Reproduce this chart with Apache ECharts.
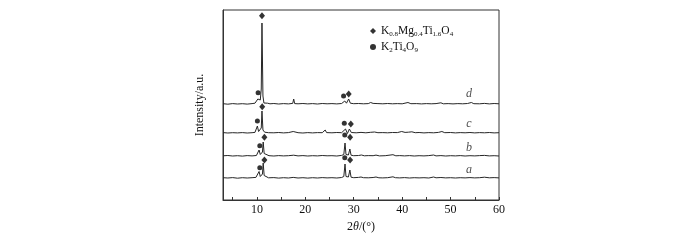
<!DOCTYPE html>
<html>
<head>
<meta charset="utf-8">
<script src="https://cdn.jsdelivr.net/npm/echarts@6/dist/echarts.min.js"></script>
<style>
  html, body { margin: 0; padding: 0; background: #fff; }
  #xrdChart { width: 700px; height: 240px; }
</style>
</head>
<body>
<div id="xrdChart"></div>
<script>
// 2theta / intensity pairs (intensity in plot px above each baseline)
const traceA = [[3,0.3],[4,0],[5,0.4],[6,-0.2],[7,0.3],[8,0],[9,0.3],[9.8,0.6],[10.2,2],[10.45,6.5],[10.7,1.5],[10.95,1.5],[11.15,4],[11.3,15],[11.5,2.5],[11.8,0.8],[12.4,0.2],[13.5,0.4],[14.5,-0.1],[15.5,0.3],[16.5,0],[17.5,0.6],[18.5,0],[19.5,0.3],[20.5,-0.1],[21.5,0.3],[22.5,0],[23.5,0.4],[24.5,0.1],[25.5,0.3],[26.5,0],[27.5,0.5],[27.95,1.5],[28.2,14],[28.4,1.5],[28.9,1],[29.2,8],[29.45,0.8],[30,0.3],[31,0.6],[31.5,1],[32,0.3],[33,0.2],[34,0.5],[34.6,1],[35.2,0.2],[36,0.1],[37,0.3],[38.1,1.2],[38.6,0.3],[39.5,0.1],[40.5,0.4],[41.5,0],[42.5,0.3],[43.5,0.1],[44.5,0.3],[45.5,0],[46.5,1],[47,0.2],[48,0.5],[49,0.1],[50,0.3],[51,0],[52,0.3],[53,0.1],[54,0.4],[55,0.1],[56,0.3],[57,0.8],[58,0.2],[59,0.4],[60,0.1]];
const traceB = [[3,0.2],[4,0.5],[5,0],[6,0.3],[7,-0.1],[8,0.4],[9,0.1],[9.9,0.5],[10.2,1.5],[10.45,6],[10.7,1.5],[10.95,1.2],[11.15,4],[11.3,14],[11.5,2.5],[11.8,0.6],[12.5,0.3],[13.5,0],[14.5,0.4],[15.5,0.1],[16.5,0.3],[17.6,0.8],[18.5,0.1],[19.5,0.4],[20.5,0],[21.5,0.3],[22.5,0.1],[23.5,0.5],[24.5,0.2],[25.5,0.3],[26.5,0],[27.5,0.6],[27.95,1.5],[28.2,13],[28.4,1.5],[28.9,1],[29.2,7],[29.45,0.8],[30,0.3],[31,0.5],[31.6,1],[32.2,0.2],[33,0.4],[34,0.3],[34.6,0.9],[35.3,0.1],[36.5,0.3],[38.1,1.3],[38.7,0.2],[39.5,0.4],[40.5,0.1],[41.5,0.4],[42.5,0],[43.5,0.3],[44.5,0.1],[45.5,0.4],[46.5,1],[47,0.1],[48,0.4],[49,0],[50,0.3],[51,0.1],[52,0.4],[53,0],[54,0.3],[55,0.1],[56,0.4],[57,0.6],[58,0.1],[59,0.3],[60,0]];
const traceC = [[3,0.4],[4,0],[5,0.3],[6,0.1],[7,0.4],[8,0],[9,0.3],[9.6,0.6],[9.9,2],[10.1,7],[10.35,1.5],[10.7,1],[10.9,5],[11.05,22],[11.25,3],[11.6,0.8],[12,1.2],[12.4,0.3],[13.5,0.2],[14.5,0.5],[15.5,0.1],[16.5,0.4],[17.5,1.5],[17.8,0.2],[18.5,0.3],[19.5,0],[20.5,0.4],[21.5,0.1],[22.5,0.4],[23.5,0.3],[24.1,3],[24.4,0.4],[25.5,0.2],[26.5,0.5],[27.5,0.3],[28.3,4],[28.7,-0.5],[29.1,4],[29.5,0.5],[30.5,0.2],[31.5,0.6],[32.5,0.2],[33.5,0.7],[34.3,1],[35,0.3],[36,0.4],[37,0.2],[38,0.5],[39,0.4],[39.9,1.5],[40.6,0.6],[41.3,0.8],[42,1.2],[42.7,0.3],[43.5,0.5],[44.5,0.1],[45.5,0.4],[46.5,0.2],[47.5,0.6],[48.2,1.5],[48.8,0.3],[50,0.5],[51,0.1],[52,0.4],[53,0.2],[54,0.5],[55,0.1],[56,0.4],[57,0.2],[58,0.5],[59,0.1],[60,0.3]];
const traceD = [[3,0.3],[4,-0.2],[5,0.4],[6,0],[7,0.3],[8,-0.1],[9,0.4],[9.6,0.8],[9.95,2.5],[10.2,5],[10.45,3],[10.7,4],[10.9,15],[11.05,81],[11.25,8],[11.45,1],[11.7,-1],[12.2,0.8],[12.7,0.2],[13.5,0.5],[14.5,0],[15.5,0.4],[16.5,0.1],[17.4,0.6],[17.6,5],[17.8,0.4],[18.5,0.2],[19.5,0.5],[20.5,0.1],[21.5,0.4],[22.5,0],[23.5,0.5],[24.5,0.2],[25.5,0.4],[26.5,0.1],[27.5,0.5],[28.15,3],[28.5,0.8],[28.95,5],[29.3,0.8],[30,0.3],[31,0.5],[32,0.2],[33,0.4],[33.5,1.5],[34,0.6],[34.4,1.8],[35,0.4],[36,0.2],[37,0.5],[38,0.2],[39,0.4],[40,0.2],[41.2,1.5],[41.8,0.3],[43,0.4],[44,0.1],[45,0.4],[46,0.2],[47,0.4],[48,1.2],[48.5,0.2],[49.5,0.4],[50.5,0.1],[51.5,0.4],[52.5,0.2],[53.5,0.5],[54.3,1.5],[54.8,0.3],[56,0.2],[57,0.6],[58,0.1],[59,0.5],[60,0.2]];

const traceNames = ["a", "b", "c", "d"];
const traceOffsets = [22, 44, 67, 96];
const traceLabelX = 53.8;
const traceLabelY = [30, 52, 76, 106];

// phase markers
const diamondPts = [[11.05,184.3],[28.96,106],[11.1,93.3],[29.4,76],[11.55,62.7],[29.25,62.7],[11.55,40],[29.25,40]];
const dotPts = [[10.25,107.3],[27.9,104],[10.1,79],[28.05,76.7],[10.6,54.3],[28.15,65],[10.6,32.3],[28.15,42.3]];

const xTicks = [5,10,15,20,25,30,35,40,45,50,55,60];
const xLabels = [10,20,30,40,50,60];

const serif = "Liberation Serif";
const traces = [traceA, traceB, traceC, traceD];

let myChart = echarts.init(document.getElementById("xrdChart"));

const lineSeries = traces.map((tr, i) => ({
  name: "trace " + traceNames[i],
  type: "line",
  symbol: "none",
  smooth: false,
  lineStyle: { color: "#262626", width: 1 },
  data: tr.map(p => [p[0], traceOffsets[i] + p[1]])
}));

// subscripts for the legend
function formula(name) {
  if (name === "K0.8Mg0.4Ti1.6O4") {
    return "{n|K}{s|0.8}{n|Mg}{s|0.4}{n|Ti}{s|1.6}{n|O}{s|4}";
  }
  return "{n|K}{s|2}{n|Ti}{s|4}{n|O}{s|9}";
}

myChart.setOption({
  animation: false,
  backgroundColor: "#fff",
  grid: {
    left: 223, right: 201, top: 10, bottom: 40,
    show: true, borderColor: "#333", borderWidth: 1
  },
  legend: {
    data: [
      { name: "K0.8Mg0.4Ti1.6O4", icon: "diamond" },
      { name: "K2Ti4O9", icon: "circle" }
    ],
    orient: "vertical",
    left: 370, top: 25,
    padding: 0,
    itemWidth: 6, itemHeight: 6, itemGap: 3,
    formatter: formula,
    textStyle: {
      color: "#111",
      fontFamily: serif,
      fontSize: 11,
      rich: {
        n: { fontSize: 11.5, fontFamily: serif, color: "#111", lineHeight: 14, verticalAlign: "middle" },
        s: { fontSize: 7, fontFamily: serif, color: "#111", lineHeight: 8, verticalAlign: "bottom" }
      }
    }
  },
  xAxis: {
    type: "value",
    min: 3, max: 60,
    name: "{a|2}{t|θ}{a|/(°)}",
    nameLocation: "middle",
    nameGap: 20,
    nameTextStyle: {
      rich: {
        a: { fontFamily: serif, fontSize: 12, color: "#111" },
        t: { fontFamily: serif, fontSize: 12, fontStyle: "italic", color: "#111" }
      }
    },
    axisLine: { show: true, lineStyle: { color: "#333" } },
    axisTick: { show: true, inside: true, length: 3, customValues: xTicks, lineStyle: { color: "#333" } },
    axisLabel: { customValues: xLabels, fontFamily: serif, fontSize: 12, color: "#111", margin: 4 },
    splitLine: { show: false }
  },
  yAxis: {
    type: "value",
    min: 0, max: 190,
    name: "Intensity/a.u.",
    nameLocation: "middle",
    nameRotate: 90,
    nameGap: 17,
    nameTextStyle: { fontFamily: serif, fontSize: 12, color: "#111" },
    axisLine: { show: true, lineStyle: { color: "#333" } },
    axisTick: { show: false },
    axisLabel: { show: false },
    splitLine: { show: false }
  },
  series: [
    ...lineSeries,
    {
      name: "K0.8Mg0.4Ti1.6O4",
      type: "scatter",
      symbol: "diamond",
      symbolSize: [6, 7],
      itemStyle: { color: "#000" },
      data: diamondPts
    },
    {
      name: "K2Ti4O9",
      type: "scatter",
      symbol: "circle",
      symbolSize: 5,
      itemStyle: { color: "#000" },
      data: dotPts
    },
    {
      name: "labels",
      type: "scatter",
      symbolSize: 0,
      data: traceNames.map((n, i) => ({ value: [traceLabelX, traceLabelY[i]], name: n })),
      label: {
        show: true,
        position: "inside",
        formatter: p => p.name,
        fontFamily: serif,
        fontStyle: "italic",
        fontSize: 12,
        color: "#222"
      }
    }
  ]
});

window.onresize = function () {
  myChart.resize();
};
</script>
</body>
</html>
